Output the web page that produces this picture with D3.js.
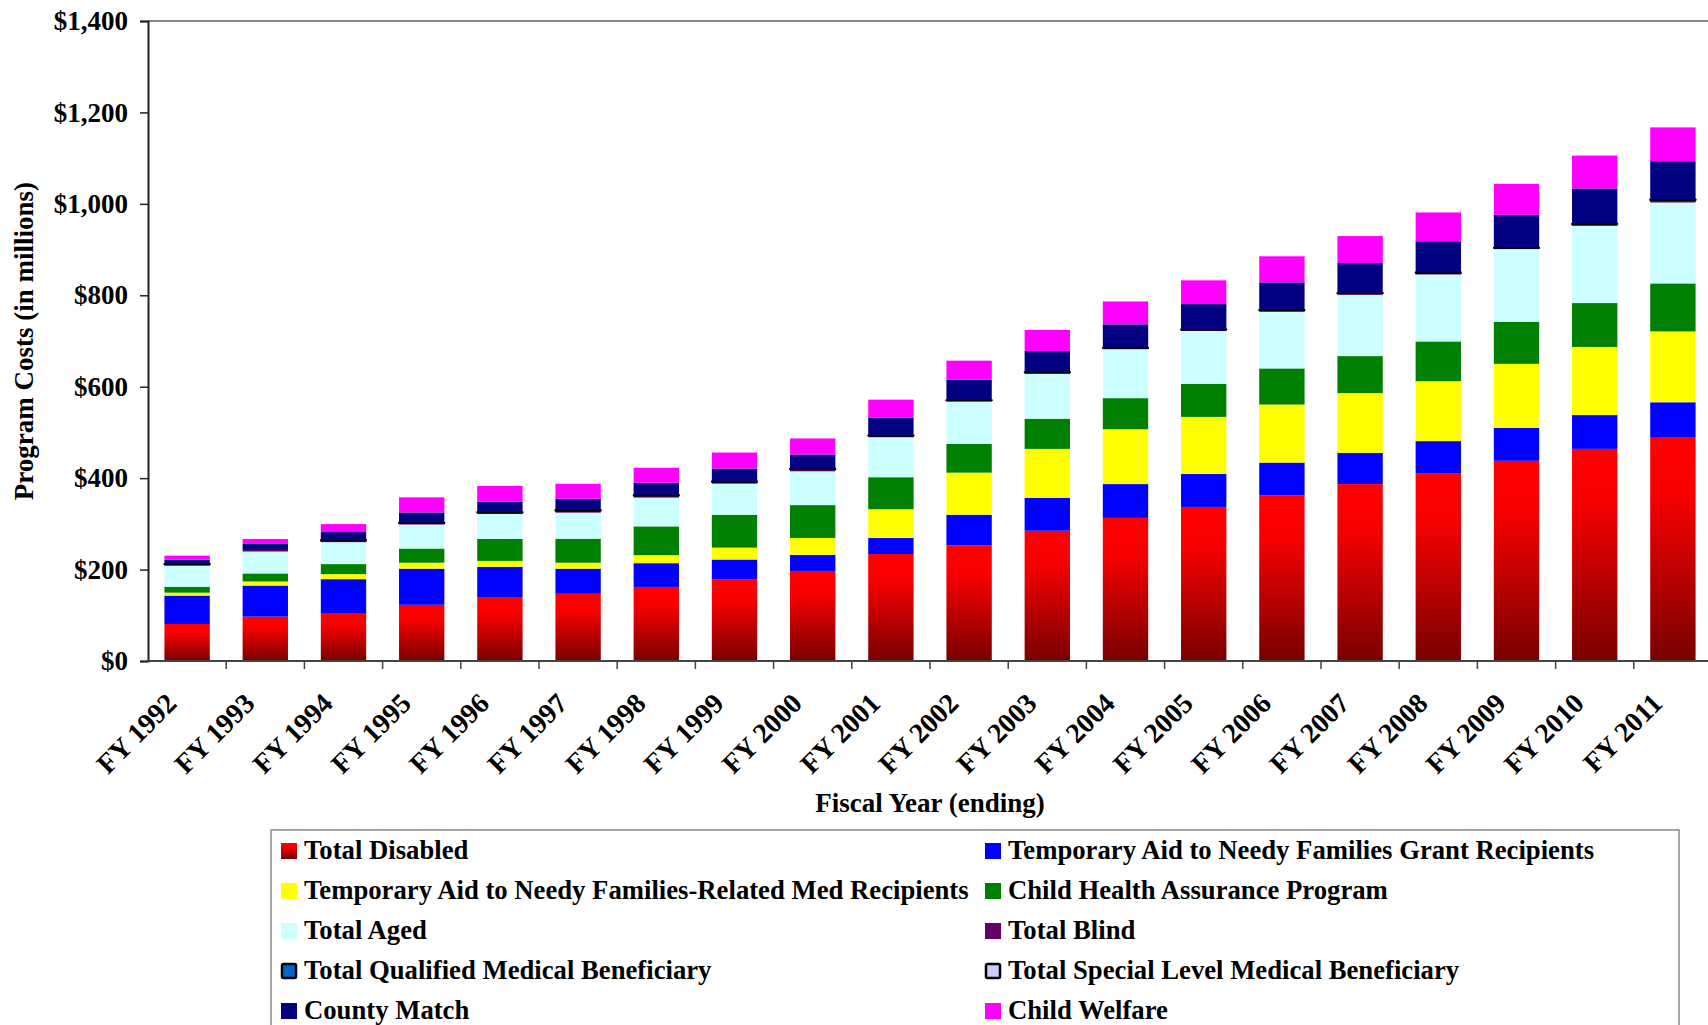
<!DOCTYPE html>
<html><head><meta charset="utf-8">
<script src="https://cdn.jsdelivr.net/npm/d3@7"></script>
<style>
body{margin:0;background:#fff}
text{font-family:"Liberation Serif","Times New Roman",serif;font-weight:bold;fill:#000}
</style>
</head><body><svg id="c" width="1708" height="1025"></svg>
<script>
const years = ["FY 1992","FY 1993","FY 1994","FY 1995","FY 1996","FY 1997","FY 1998","FY 1999","FY 2000","FY 2001","FY 2002","FY 2003","FY 2004","FY 2005","FY 2006","FY 2007","FY 2008","FY 2009","FY 2010","FY 2011"];
const seriesNames = ["Total Disabled","Temporary Aid to Needy Families Grant Recipients","Temporary Aid to Needy Families-Related Med Recipients","Child Health Assurance Program","Total Aged","Total Blind","Total Qualified Medical Beneficiary","Total Special Level Medical Beneficiary","County Match","Child Welfare"];
const seriesColors = ["url(#redGrad)","#0000FF","#FFFF00","#008000","#CCFFFF","#660066","#0066CC","#CCCCFF","#000080","#FF00FF"];
const outlined = [false,false,false,false,false,false,true,true,false,false];

const totalDisabled = [81,97,105,123,140,147,162,178,197,234,253,285,313,337,362,387,411,438,464,490];
const tanfGrant     = [62,68,74,79,66,55,52,44,35,35,67,72,74,72,72,68,70,72,74,76];
const tanfRelated   = [6.5,9,11,13,13,13,17.5,26,37,63,92,107,120,125,127,131,131,140,149,155];
const chap          = [13,17.5,22,31,48,52.5,63,72,72,70,63,66,68,72,79,81,87,92,96,105];
const totalAged     = [46,48,48,52.5,54.5,57,63,68,74,87.5,92.5,98,107,116,124,134,146.5,159,169,177];
const totalBlind    = [2.5,3.5,3,3,3,4,4,3.5,4,3,2.5,3,2.5,2.5,3,3,3,2.5,3,4.5];
const totalQMB      = [1,0,1,1,1,1.5,1.5,1,1.2,0.8,0.6,0.8,0.6,0.7,0.8,1,1,0.5,1,1.8];
const totalSLMB     = [0.5,0,0.5,0.5,0.5,0.8,0.8,0.5,0.6,0.4,0.4,0.4,0.4,0.5,0.5,0.6,0.7,0.4,0.7,1];
const countyMatch   = [9,13,17.5,22,22,24,26,28,31,39,44,46,51,55,60,65,68,71.5,77,83];
const childWelfare  = [9,11,17.5,33,35,33,33,35,35,39,42,46,50,52,57,59,63,68,72,74];
const yTicks = [0,200,400,600,800,1000,1200,1400];

const seriesValues = [totalDisabled,tanfGrant,tanfRelated,chap,totalAged,totalBlind,totalQMB,totalSLMB,countyMatch,childWelfare];
const table = years.map((yr,i)=>{const o={year:yr}; seriesNames.forEach((s,k)=>o[s]=seriesValues[k][i]); return o;});

const svg = d3.select("#c");
const defs = svg.append("defs");
const g1 = defs.append("linearGradient").attr("id","redGrad").attr("x1",0).attr("y1",0).attr("x2",0).attr("y2",1);
g1.append("stop").attr("offset","0").attr("stop-color","#ff0000");
g1.append("stop").attr("offset","0.25").attr("stop-color","#f80000");
g1.append("stop").attr("offset","1").attr("stop-color","#780000");

const FS = 27;
const pL=148, pR=1712, pT=21, pB=661;
const x = d3.scaleBand().domain(years).range([pL,pR]).paddingInner(0.42).paddingOuter(0.21);
const y = d3.scaleLinear().domain([0,1400]).range([pB,pT]);

svg.append("line").attr("x1",pL).attr("x2",pR).attr("y1",pT).attr("y2",pT).attr("stroke","#888").attr("stroke-width",2);

const stack = d3.stack().keys(seriesNames)(table);
const layers = svg.append("g").selectAll("g").data(stack).join("g")
  .attr("fill",(d,i)=>seriesColors[i]);
layers.each(function(layer,i){
  d3.select(this).selectAll("rect").data(layer.filter(d=>d[1]-d[0]>0)).join("rect")
    .attr("x",d=>x(d.data.year))
    .attr("width",x.bandwidth())
    .attr("y",d=>y(d[1]))
    .attr("height",d=>y(d[0])-y(d[1]))
    .attr("stroke",outlined[i]?"#000":"none")
    .attr("stroke-width",outlined[i]?1.6:0)
    .attr("stroke-linejoin","round");
});

const yAxis = svg.append("g").attr("transform",`translate(${pL},0)`)
  .call(d3.axisLeft(y).tickValues(yTicks).tickSize(8).tickPadding(12).tickFormat(d=>"$"+d3.format(",")(d)));
yAxis.select(".domain").attr("stroke","#222").attr("stroke-width",2);
yAxis.selectAll(".tick line").attr("stroke","#222").attr("stroke-width",1.5);
yAxis.selectAll("text").attr("font-size",FS).attr("font-family","Liberation Serif").attr("font-weight","bold").attr("fill","#000");

svg.append("line").attr("x1",pL).attr("x2",pR).attr("y1",pB).attr("y2",pB).attr("stroke","#444").attr("stroke-width",2);
const gap = (x.step()-x.bandwidth())/2;
svg.append("g").selectAll("line").data(years.slice(1)).join("line")
  .attr("x1",d=>x(d)-gap).attr("x2",d=>x(d)-gap)
  .attr("y1",pB).attr("y2",pB+8).attr("stroke","#444").attr("stroke-width",1.5);
svg.append("g").selectAll("text").data(years).join("text")
  .attr("transform",d=>`translate(${x(d)+x.bandwidth()/2-9},${pB+44}) rotate(-45)`)
  .attr("text-anchor","end").attr("font-size",28).text(d=>d);

svg.append("text").attr("transform",`translate(33,${(pT+pB)/2}) rotate(-90)`)
  .attr("text-anchor","middle").attr("font-size",FS).text("Program Costs (in millions)");
svg.append("text").attr("x",(pL+pR)/2).attr("y",812).attr("text-anchor","middle").attr("font-size",FS).text("Fiscal Year (ending)");

svg.append("rect").attr("x",271).attr("y",830).attr("width",1408).attr("height",240)
  .attr("fill","#fff").attr("stroke","#888").attr("stroke-width",1.5);
const colX=[281,985];
const leg = svg.append("g").selectAll("g").data(seriesNames).join("g")
  .attr("transform",(d,i)=>`translate(${colX[i%2]},${859+Math.floor(i/2)*40})`);
leg.append("rect").attr("x",(d,i)=>outlined[i]?1:0).attr("y",(d,i)=>outlined[i]?-15:-16)
  .attr("width",(d,i)=>outlined[i]?14:16).attr("height",(d,i)=>outlined[i]?14:16)
  .attr("fill",(d,i)=>seriesColors[i])
  .attr("stroke",(d,i)=>outlined[i]?"#000":"none").attr("stroke-width",2.5).attr("rx",(d,i)=>outlined[i]?1.5:0);
leg.append("text").attr("x",23).attr("y",0).attr("font-size",26.7).text(d=>d);
</script></body></html>
